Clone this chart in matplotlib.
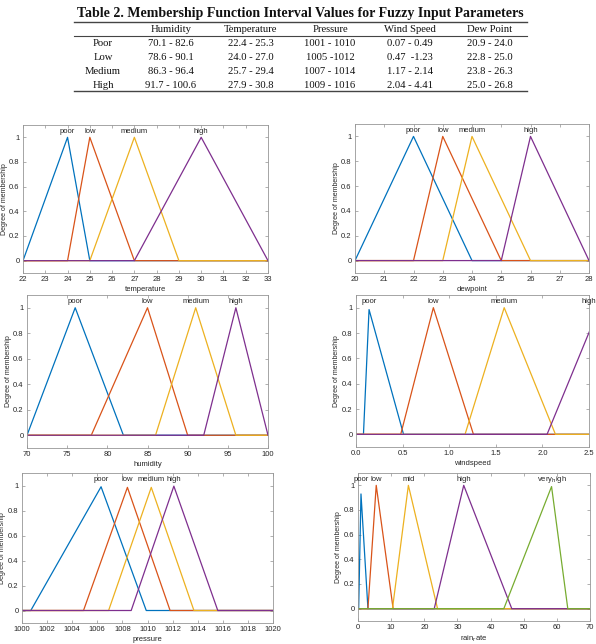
import numpy as np
import matplotlib
matplotlib.use("Agg")
import matplotlib.pyplot as plt

# ---- table data ----
table_title = "Table 2. Membership Function Interval Values for Fuzzy Input Parameters"
table_cols = ["Humidity", "Temperature", "Pressure", "Wind Speed", "Dew Point"]
table_rows = ["Poor", "Low", "Medium", "High"]
table_cells = [
    ["70.1 - 82.6", "22.4 - 25.3", "1001 - 1010", "0.07 - 0.49", "20.9 - 24.0"],
    ["78.6 - 90.1", "24.0 - 27.0", "1005 -1012", "0.47  -1.23", "22.8 - 25.0"],
    ["86.3 - 96.4", "25.7 - 29.4", "1007 - 1014", "1.17 - 2.14", "23.8 - 26.3"],
    ["91.7 - 100.6", "27.9 - 30.8", "1009 - 1016", "2.04 - 4.41", "25.0 - 26.8"],
]

# ---- membership functions: triangle (a, b, c) and peak height ----
mf_names = ["poor", "low", "medium", "high"]

temp_range = (22, 33)
temp_tri = [(22, 24, 25), (24, 25, 27), (25, 27, 29), (27, 30, 33)]
temp_peak = [1, 1, 1, 1]

dew_range = (20, 28)
dew_tri = [(20, 22, 24), (22, 23, 25), (23, 24, 26), (25, 26, 28)]
dew_peak = [1, 1, 1, 1]

hum_range = (70, 100)
hum_tri = [(70, 76, 82), (78, 85, 90), (86, 91, 96), (92, 96, 100)]
hum_peak = [1, 1, 1, 1]

wind_range = (0, 2.5)
wind_tri = [(0.08, 0.14, 0.51), (0.48, 0.83, 1.26), (1.17, 1.59, 2.14), (2.05, 2.61, 3.2)]
wind_peak = [0.985, 1, 1, 1]

pres_range = (1000, 1020)
pres_tri = [(1000.7, 1006.3, 1009.9), (1004.9, 1008.4, 1011.8),
            (1006.9, 1010.3, 1013.7), (1008.7, 1012.1, 1015.6)]
pres_peak = [0.99, 0.985, 0.985, 0.995]

rain_names = ["poor", "low", "mid", "high", r"very$_\mathrm{h}$igh"]
rain_range = (0, 70)
rain_tri = [(0.2, 0.9, 3.0), (3.0, 5.5, 10.6), (10.4, 15.2, 24.0),
            (23.0, 31.9, 46.4), (44.0, 58.4, 63.3)]
rain_peak = [0.93, 1, 1, 1, 0.99]

COLORS = ["#0072BD", "#D95319", "#EDB120", "#7E2F8E", "#77AC30"]

W, H = 596, 644
plt.rcParams["font.family"] = ["Liberation Sans", "DejaVu Sans"]
fig = plt.figure(figsize=(W / 100, H / 100), dpi=100)


def box(l, t, r, b):
    return [l / W, 1 - b / H, (r - l) / W, (b - t) / H]


def mf_plot(rect, rng, tris, peaks, names, xlabel, xticks):
    ax = fig.add_axes(box(*rect))
    lo, hi = rng
    for i, ((a, b, c), h) in enumerate(zip(tris, peaks)):
        ax.plot([lo, a, b, c, max(c, hi)], [0, 0, h, 0, 0],
                color=COLORS[i], lw=0.9)
        ax.text(min(b, hi), 1.05, names[i], ha="center", va="center",
                fontsize=5.5, color="#262626", clip_on=False)
    ax.set_xlim(lo, hi)
    ax.set_ylim(-0.1, 1.1)
    ax.set_xticks(xticks)
    ax.set_yticks([0, 0.2, 0.4, 0.6, 0.8, 1])
    ax.set_yticklabels(["0", "0.2", "0.4", "0.6", "0.8", "1"])
    ax.tick_params(direction="in", length=2.5, width=0.5, labelsize=5.5,
                   top=True, right=True, colors="#909090", labelcolor="#262626",
                   pad=2.5)
    for s in ax.spines.values():
        s.set_color("#969696")
        s.set_linewidth(0.6)
    ax.set_xlabel(xlabel, fontsize=5.5, color="#262626", labelpad=1.5)
    ax.set_ylabel("Degree of membership", fontsize=5.0, color="#262626")
    # anchor is the label's right edge; keep it about 16 px left of the axis
    ax.yaxis.set_label_coords(-15.5 / (rect[2] - rect[0]), 0.5)
    return ax


mf_plot((23, 125, 268, 273), temp_range, temp_tri, temp_peak, mf_names,
        "temperature", np.arange(22, 34, 1))
mf_plot((355, 124, 589, 273), dew_range, dew_tri, dew_peak, mf_names,
        "dewpoint", np.arange(20, 29, 1))
mf_plot((27, 295, 268, 448), hum_range, hum_tri, hum_peak, mf_names,
        "humidity", np.arange(70, 101, 5))
mf_plot((356, 295, 589, 447), wind_range, wind_tri, wind_peak, mf_names,
        "windspeed", np.arange(0, 2.51, 0.5))
mf_plot((22, 473, 273, 623), pres_range, pres_tri, pres_peak, mf_names,
        "pressure", np.arange(1000, 1021, 2))
mf_plot((358, 473, 590, 621), rain_range, rain_tri, rain_peak, rain_names,
        r"rain$_\mathrm{r}$ate", np.arange(0, 71, 10))

# ---- table on top ----
tax = fig.add_axes([0, 1 - 100 / H, 1, 100 / H])
tax.set_xlim(0, W)
tax.set_ylim(100, 0)
tax.axis("off")
serif = ["Liberation Serif", "DejaVu Serif"]
tax.text(300, 13, table_title, ha="center", va="center", fontsize=10,
         fontweight="bold", family=serif, color="#111111")
for yy, lw in [(22, 1.0), (36, 0.8), (91, 1.0)]:
    tax.plot([74, 527], [yy, yy], color="#444444", lw=lw)
col_x = [171, 251, 330, 410, 490]
row_y = [43, 57, 71, 85]
for x, name in zip(col_x, table_cols):
    tax.text(x, 29, name, ha="center", va="center", fontsize=7.7,
             family=serif, color="#111111")
for y, rname, cells in zip(row_y, table_rows, table_cells):
    tax.text(103, y, rname, ha="center", va="center", fontsize=7.7,
             family=serif, color="#111111")
    for x, c in zip(col_x, cells):
        tax.text(x, y, c, ha="center", va="center", fontsize=7.7,
                 family=serif, color="#111111")

fig.savefig("out.png", dpi=100)
